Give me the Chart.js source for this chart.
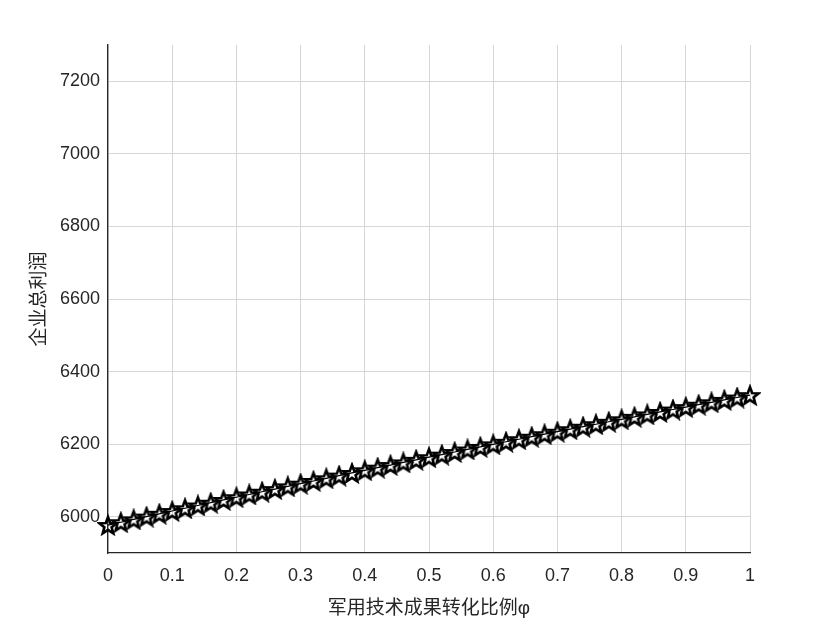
<!DOCTYPE html>
<html>
<head>
<meta charset="utf-8">
<script src="https://cdn.jsdelivr.net/npm/chart.js@4"></script>
<style>
  html, body { margin: 0; padding: 0; background: #fff; }
  #wrap { width: 827px; height: 620px; }
</style>
</head>
<body>
<div id="wrap"><canvas id="lucro" width="827" height="620"></canvas></div>
<script>
// proporcao de conversao (phi) e lucro total
const phi = [0, 0.02, 0.04, 0.06, 0.08, 0.1, 0.12, 0.14, 0.16, 0.18, 0.2, 0.22, 0.24, 0.26, 0.28, 0.3,
    0.32, 0.34, 0.36, 0.38, 0.4, 0.42, 0.44, 0.46, 0.48, 0.5, 0.52, 0.54, 0.56, 0.58, 0.6, 0.62, 0.64,
    0.66, 0.68, 0.7, 0.72, 0.74, 0.76, 0.78, 0.8, 0.82, 0.84, 0.86, 0.88, 0.9, 0.92, 0.94, 0.96, 0.98, 1];
const lucro = [5977, 5984.8, 5992.5, 6000.3, 6008, 6015.7, 6023.3, 6031, 6038.6, 6046.2, 6053.7, 6061.3,
    6068.8, 6076.2, 6083.7, 6091.1, 6098.5, 6105.9, 6113.3, 6120.6, 6127.9, 6135.2, 6142.4, 6149.6,
    6156.8, 6164, 6171.1, 6178.3, 6185.4, 6192.4, 6199.5, 6206.5, 6213.5, 6220.5, 6227.4, 6234.3,
    6241.2, 6248.1, 6254.9, 6261.7, 6268.5, 6275.3, 6282, 6288.7, 6295.4, 6302.1, 6308.7, 6315.3,
    6321.9, 6328.5, 6335];
const xTicks = [0, 0.1, 0.2, 0.3, 0.4, 0.5, 0.6, 0.7, 0.8, 0.9, 1];
const yTicks = [6000, 6200, 6400, 6600, 6800, 7000, 7200];

// estrela de cinco pontas (o 'star' do Chart.js e um asterisco)
function estrela() {
    let c = document.createElement('canvas');
    c.width = 22; c.height = 22;
    let ctx = c.getContext('2d');
    let R = 9, r = 3.8;
    ctx.beginPath();
    for (let i = 0; i < 10; i++) {
        let a = -Math.PI / 2 + i * Math.PI / 5;
        let rr = i % 2 === 0 ? R : r;
        let px = 11 + rr * Math.cos(a), py = 12 + rr * Math.sin(a);
        if (i === 0) ctx.moveTo(px, py); else ctx.lineTo(px, py);
    }
    ctx.closePath();
    ctx.lineJoin = 'miter';
    ctx.lineWidth = 2.6;
    ctx.strokeStyle = '#000';
    ctx.stroke();
    return c;
}

const fonteTick = { family: '"Liberation Sans", Arial, sans-serif', size: 18 };
const fonteTitulo = { family: '"Liberation Sans", "Noto Sans CJK SC", sans-serif', size: 19 };

let grafico = new Chart(document.getElementById('lucro'), {
    type: 'line',
    data: {
        datasets: [{
            data: phi.map((v, i) => ({ x: v, y: lucro[i] })),
            borderColor: '#000',
            borderWidth: 1.2,
            pointStyle: estrela(),
            pointRadius: 9,
            fill: false,
            clip: false,
            tension: 0
        }]
    },
    options: {
        responsive: false,
        animation: false,
        layout: { padding: { top: 45, right: 77, left: 0, bottom: 0 } },
        plugins: {
            legend: { display: false },
            tooltip: { enabled: false }
        },
        scales: {
            x: {
                type: 'linear',
                min: 0,
                max: 1,
                afterBuildTicks: (axis) => { axis.ticks = xTicks.map(v => ({ value: v })); },
                afterFit: (axis) => { axis.height = 67; },
                ticks: {
                    color: '#262626',
                    font: fonteTick,
                    padding: 12,
                    maxRotation: 0,
                    callback: (v) => String(v)
                },
                grid: { color: '#d6d6d6', lineWidth: 1, drawTicks: false },
                border: { color: '#262626', width: 1.3 },
                title: {
                    display: true,
                    text: '军用技术成果转化比例φ',
                    color: '#262626',
                    font: fonteTitulo,
                    padding: { top: 0, bottom: 0 }
                }
            },
            y: {
                min: 5900,
                max: 7300,
                afterBuildTicks: (axis) => { axis.ticks = yTicks.map(v => ({ value: v })); },
                afterFit: (axis) => { axis.width = 108; },
                ticks: {
                    color: '#262626',
                    font: fonteTick,
                    padding: 8,
                    callback: (v) => String(v)
                },
                grid: { color: '#d6d6d6', lineWidth: 1, drawTicks: false },
                border: { color: '#262626', width: 1.3 },
                title: {
                    display: true,
                    text: '企业总利润',
                    color: '#262626',
                    font: fonteTitulo,
                    padding: { top: 28, bottom: 0 }
                }
            }
        }
    }
});
</script>
</body>
</html>
